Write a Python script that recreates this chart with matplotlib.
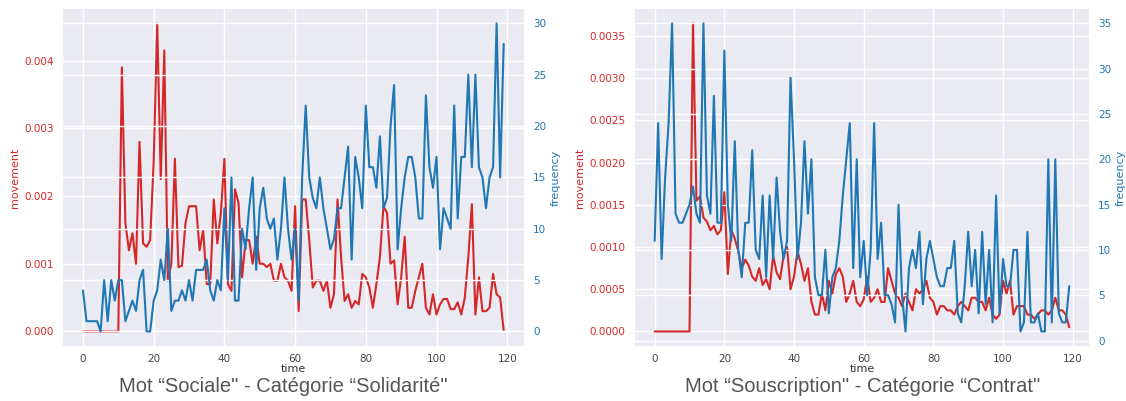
import numpy as np
import matplotlib.pyplot as plt
import seaborn as sns

sns.set_theme(style="darkgrid")
plt.rcParams['font.family'] = ['DejaVu Sans']

time = list(range(120))

# Mot "Sociale" - Catégorie "Solidarité"
sociale_movement = [
    0, 0, 0, 0, 0, 0, 0, 0, 0, 0, 0, 3.9, 1.6, 1.2, 1.45, 1.0, 2.8, 1.3, 1.25, 1.35,
    2.5, 4.55, 2.25, 4.15, 0.75, 1.0, 2.55, 0.95, 0.97, 1.6, 1.85, 1.85, 1.85, 1.2, 1.5, 0.7, 0.7, 1.95, 1.3, 1.75,
    2.55, 0.7, 0.6, 2.1, 1.9, 0.8, 1.35, 1.35, 1.0, 1.4, 1.0, 1.0, 0.95, 1.0, 0.75, 0.75, 1.0, 0.8, 0.75, 0.6,
    1.85, 0.3, 1.95, 1.95, 1.35, 0.65, 0.75, 0.75, 0.6, 0.75, 0.35, 0.55, 1.95, 1.1, 0.45, 0.55, 0.35, 0.45, 0.4, 0.85,
    0.8, 0.65, 0.35, 0.7, 1.1, 1.85, 1.75, 1.0, 1.05, 0.4, 0.8, 1.4, 0.35, 0.35, 0.6, 0.8, 1.0, 0.35, 0.25, 0.55,
    0.25, 0.4, 0.48, 0.48, 0.33, 0.33, 0.43, 0.25, 0.5, 1.1, 1.88, 0.25, 0.8, 0.3, 0.3, 0.35, 0.85, 0.55, 0.5, 0.02,
]
sociale_frequency = [
    4, 1, 1, 1, 1, 0, 5, 1, 5, 3, 5, 5, 1, 2, 3, 2, 5, 6, 0, 0,
    3, 4, 7, 5, 10, 2, 3, 3, 4, 3, 5, 3, 6, 6, 6, 7, 4, 3, 5, 4,
    12, 5, 15, 3, 3, 10, 8, 12, 15, 6, 12, 14, 11, 10, 11, 7, 10, 15, 10, 7,
    10, 3, 15, 22, 15, 13, 12, 15, 12, 10, 8, 9, 12, 12, 15, 18, 7, 17, 15, 12,
    22, 16, 16, 14, 19, 12, 13, 20, 24, 8, 12, 15, 17, 17, 15, 11, 11, 23, 16, 14,
    17, 8, 12, 11, 10, 22, 11, 17, 17, 25, 16, 25, 16, 15, 12, 15, 16, 30, 15, 28,
]

# Mot "Souscription" - Catégorie "Contrat"
souscription_movement = [
    0, 0, 0, 0, 0, 0, 0, 0, 0, 0, 0, 3.65, 1.55, 1.6, 1.35, 1.3, 1.2, 1.25, 1.15, 1.2,
    1.65, 0.68, 1.2, 1.1, 0.95, 0.75, 0.85, 0.78, 0.65, 0.6, 0.75, 0.55, 0.62, 0.5, 0.9, 0.7, 0.62, 0.9, 1.0, 0.5,
    0.65, 0.95, 0.8, 0.6, 0.75, 0.35, 0.2, 0.2, 0.45, 0.25, 0.6, 0.45, 0.68, 0.75, 0.65, 0.35, 0.45, 0.6, 0.35, 0.3,
    0.38, 0.65, 0.35, 0.4, 0.5, 0.35, 0.35, 0.75, 0.6, 0.45, 0.4, 0.3, 0.45, 0.35, 0.25, 0.5, 0.45, 0.5, 0.6, 0.4,
    0.35, 0.2, 0.3, 0.3, 0.25, 0.25, 0.2, 0.3, 0.35, 0.3, 0.25, 0.4, 0.4, 0.35, 0.35, 0.25, 0.4, 0.2, 0.15, 0.2,
    0.6, 0.45, 0.6, 0.2, 0.3, 0.3, 0.3, 0.2, 0.2, 0.15, 0.2, 0.25, 0.25, 0.2, 0.25, 0.4, 0.25, 0.25, 0.2, 0.05,
]
souscription_frequency = [
    11, 24, 9, 18, 24, 35, 14, 13, 13, 14, 15, 17, 14, 13, 35, 16, 14, 27, 13, 13,
    32, 15, 11, 22, 10, 7, 13, 13, 21, 10, 9, 16, 7, 16, 9, 18, 12, 9, 11, 29,
    20, 9, 13, 22, 14, 20, 7, 5, 5, 10, 3, 7, 8, 11, 16, 20, 24, 8, 20, 7,
    11, 5, 10, 24, 9, 13, 5, 5, 4, 2, 15, 5, 1, 8, 10, 8, 12, 4, 9, 11,
    9, 7, 6, 6, 8, 8, 11, 3, 2, 6, 12, 6, 10, 3, 12, 4, 10, 2, 16, 3,
    9, 6, 6, 10, 10, 1, 2, 12, 2, 2, 3, 1, 1, 20, 2, 20, 3, 2, 2, 6,
]

captions = ['Mot \u201cSociale" - Cat\u00e9gorie \u201cSolidarit\u00e9"',
            'Mot \u201cSouscription" - Cat\u00e9gorie \u201cContrat"']

red = '#d62728'
blue = '#1f77b4'

fig = plt.figure(figsize=(11.26, 4.01), dpi=100)
positions = [[0.055, 0.135, 0.411, 0.845], [0.563, 0.135, 0.405, 0.845]]
caption_x = [0.2513, 0.7664]
datasets = [(sociale_movement, sociale_frequency), (souscription_movement, souscription_frequency)]

for pos, (mov, freq), cap, cx in zip(positions, datasets, captions, caption_x):
    ax = fig.add_axes(pos)
    ax.plot(time, np.array(mov) / 1000, color=red, lw=1.5)
    ax.set_ylabel('movement', color=red, fontsize=8, labelpad=3)
    ax.set_xlabel('time', fontsize=8, labelpad=0, color='#333333')
    ax.tick_params(axis='y', labelcolor=red, labelsize=7.5, length=0, pad=6)
    ax.tick_params(axis='x', labelsize=7.5, colors='#444444', length=0, pad=5)
    ax.set_xticks([0, 20, 40, 60, 80, 100, 120])

    ax2 = ax.twinx()
    ax2.plot(time, freq, color=blue, lw=1.5)
    ax2.set_ylabel('frequency', color=blue, fontsize=8, labelpad=3)
    ax2.tick_params(axis='y', labelcolor=blue, labelsize=7.5, length=0, pad=6)

    fig.text(cx, 0.035, cap, ha='center', va='center', fontsize=14.5,
             color='#555555', family='Liberation Sans')

fig.savefig('out.png', dpi=100)
